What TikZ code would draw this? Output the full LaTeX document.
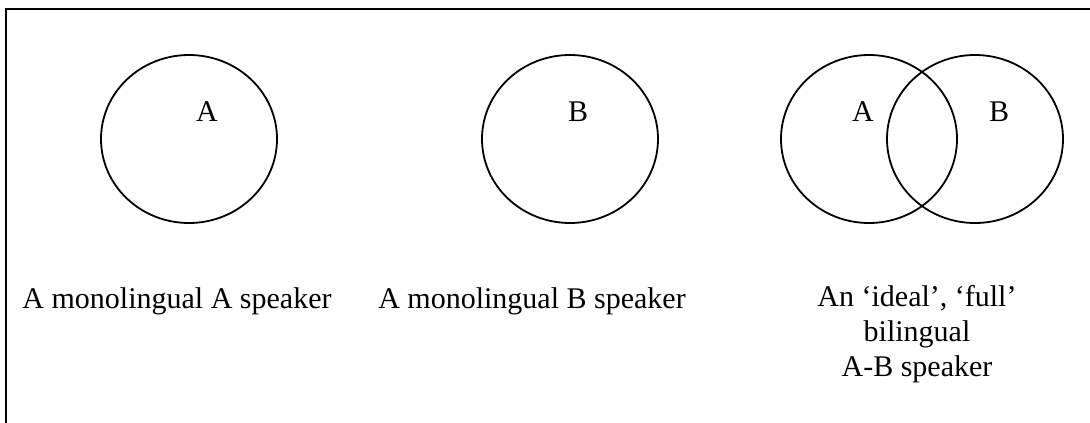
\documentclass[tikz,border=0pt]{standalone}
\usepackage{fontspec}
\setmainfont{Liberation Serif}
\usetikzlibrary{shapes.geometric}

\begin{document}
\begin{tikzpicture}[x=1pt,y=-1pt,
  speaker/.style={draw,ellipse,minimum width=176pt,minimum height=168pt,line width=1.8pt},
  letter/.style={font=\fontsize{30}{35}\selectfont,inner sep=0pt},
  caption/.style={font=\fontsize{30}{35}\selectfont,align=center,anchor=base,inner sep=0pt}
]
  \useasboundingbox (0,0) rectangle (1090,423);
  % frame, cut off at right and bottom
  \draw[line width=2.8pt] (6,423) |- (1090,9);

  \node[speaker] (monoA) at (189,139) {};
  \node[speaker] (monoB) at (570,139) {};
  \node[speaker] (biA) at (869,139) {};
  \node[speaker] (biB) at (975,139) {};

  \node[letter] (lA) at (207,112) {A};
  \node[letter] (lB) at (578,112) {B};
  \node[letter] (lbA) at (863,112) {A};
  \node[letter] (lbB) at (999,112) {B};

  \node[caption] (capA) at (177,308) {A monolingual A speaker};
  \node[caption] (capB) at (532,308) {A monolingual B speaker};
  \node[caption] (capAB) at (917,376) {An ‘ideal’, ‘full’\\bilingual\\A-B speaker};
\end{tikzpicture}
\end{document}
